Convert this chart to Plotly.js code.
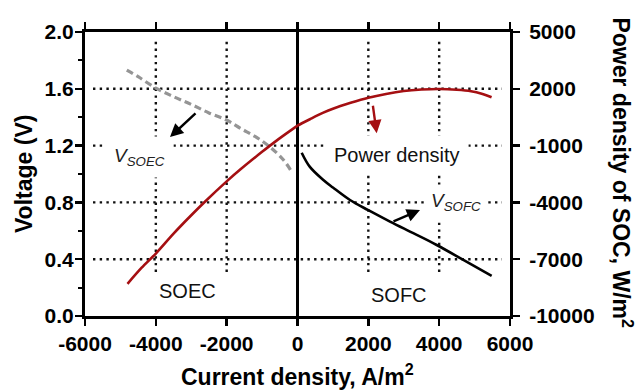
<!DOCTYPE html>
<html>
<head>
<meta charset="utf-8">
<script src="https://cdn.plot.ly/plotly-3.0.1.min.js"></script>
<style>html,body{margin:0;padding:0;background:#fff;}#chart{width:639px;height:391px;}</style>
</head>
<body>
<div id="chart"></div>
<script>
// ---- data ----
const powerI = [-4800, -4400, -4000, -3500, -3000, -2600, -2000, -1600, -1000, -600, -200, 0,
                400, 730, 1000, 1500, 2000, 2500, 3000, 3500, 4000, 4500, 4900, 5200, 5480];
const powerP = [-8300, -7450, -6700, -5650, -4680, -3940, -2890, -2240, -1330, -750, -210, 50,
                440, 740, 950, 1260, 1530, 1730, 1880, 1960, 1990, 1950, 1870, 1740, 1550];

const soecI = [-4820, -4500, -4000, -3500, -3000, -2500, -2000, -1600, -1200, -800, -400, -165];
const soecV = [1.732, 1.685, 1.605, 1.545, 1.49, 1.43, 1.38, 1.32, 1.265, 1.195, 1.10, 1.016];

const sofcI = [118, 350, 730, 1000, 1482, 2000, 2612, 3270, 3930, 4682, 5482];
const sofcV = [1.150, 1.05, 0.958, 0.905, 0.817, 0.745, 0.665, 0.583, 0.50, 0.395, 0.282];

const xTickVals = [-6000, -4000, -2000, 0, 2000, 4000, 6000];
const xTickText = ['-6000', '-4000', '-2000', '0', '2000', '4000', '6000'];
const yTickVals = [0, 0.4, 0.8, 1.2, 1.6, 2.0];
const yTickText = ['0.0', '0.4', '0.8', '1.2', '1.6', '2.0'];
const yMinorVals = [0.2, 0.6, 1.0, 1.4, 1.8];
const y2TickVals = [-10000, -7000, -4000, -1000, 2000, 5000];
const y2TickText = ['-10000', '-7000', '-4000', '-1000', '2000', '5000'];

const gridX = [-4000, -2000, 2000, 4000];
const gridY = [0.4, 0.8, 1.2, 1.6];

const FONT = 'Arial, "Liberation Sans", sans-serif';
const RED = '#A50F12';

const traces = [
  {x: powerI, y: powerP, yaxis: 'y2', mode: 'lines', line: {color: RED, width: 2.6, shape: 'spline', smoothing: 0.8}, hoverinfo: 'skip'},
  {x: soecI, y: soecV, mode: 'lines', line: {color: '#959595', width: 3.2, dash: '7px,4px', shape: 'spline'}, hoverinfo: 'skip'},
  {x: sofcI, y: sofcV, mode: 'lines', line: {color: '#000000', width: 2.6, shape: 'spline'}, hoverinfo: 'skip'}
];

const gridLine = {color: '#111111', width: 2.4, dash: '2.4px,4.3px'};
const shapes = [];
gridX.forEach(v => shapes.push({type: 'line', layer: 'below', xref: 'x', yref: 'y', x0: v, x1: v, y0: 0.31, y1: 1.944, line: gridLine}));
gridY.forEach(v => shapes.push({type: 'line', layer: 'below', xref: 'x', yref: 'y', x0: -5774, x1: 5774, y0: v, y1: v, line: gridLine}));

const tickFont = {family: FONT, size: 21, color: '#000', weight: 'bold'};
const titleFont = {family: FONT, size: 23, color: '#000', weight: 'bold'};
const labelFont = {family: FONT, size: 20, color: '#111'};

const annotations = [
  // axis titles
  {xref: 'paper', yref: 'paper', x: 0.501, y: -0.207, text: 'Current density, A/m<sup>2</sup>', showarrow: false, font: titleFont, xanchor: 'center', yanchor: 'middle'},
  {xref: 'paper', yref: 'paper', x: -0.1435, y: 0.5, text: 'Voltage (V)', textangle: -90, showarrow: false, font: titleFont, xanchor: 'center', yanchor: 'middle'},
  {xref: 'paper', yref: 'paper', x: 1.2635, y: 0.502, text: 'Power density of SOC, W/m<sup>2</sup>', textangle: 90, showarrow: false, font: titleFont, xanchor: 'center', yanchor: 'middle'},
  // labels
  {xref: 'x', yref: 'y', x: -3092, y: 0.176, text: 'SOEC', showarrow: false, font: labelFont},
  {xref: 'x', yref: 'y', x: 2866, y: 0.148, text: 'SOFC', showarrow: false, font: labelFont},
  {xref: 'x', yref: 'y', x: 2809, y: 1.134, text: 'Power density', showarrow: false, font: labelFont, bgcolor: '#ffffff', borderpad: 8},
  {xref: 'x', yref: 'y', x: -4475, y: 1.12, text: '<i>V<sub>SOEC</sub></i>', showarrow: false, font: {family: FONT, size: 19, color: '#222'}, bgcolor: '#ffffff', borderpad: 8},
  {xref: 'x', yref: 'y', x: 4475, y: 0.803, text: '<i>V<sub>SOFC</sub></i>', showarrow: false, font: {family: FONT, size: 19, color: '#222'}, bgcolor: '#ffffff', borderpad: 5},
  // arrows
  {xref: 'x', yref: 'y', x: -3600, y: 1.26, ax: 27, ay: -25, text: '', showarrow: true, arrowhead: 2, arrowsize: 1.1, arrowwidth: 2.4, arrowcolor: '#000'},
  {xref: 'x', yref: 'y', x: 2236, y: 1.287, ax: -4, ay: -29, text: '', showarrow: true, arrowhead: 2, arrowsize: 1.1, arrowwidth: 2.4, arrowcolor: RED},
  {xref: 'x', yref: 'y', x: 3459, y: 0.746, ax: -28, ay: 12, text: '', showarrow: true, arrowhead: 2, arrowsize: 1.1, arrowwidth: 2.4, arrowcolor: '#000'}
];

const layout = {
  width: 639, height: 391,
  margin: {l: 85, r: 129, t: 32, b: 75, pad: 0},
  paper_bgcolor: '#fff', plot_bgcolor: '#fff',
  showlegend: false,
  font: {family: FONT, color: '#000'},
  xaxis: {
    range: [-6000, 6000], tickmode: 'array', tickvals: xTickVals, ticktext: xTickText,
    ticks: 'outside', ticklen: 7, tickwidth: 2.5, tickcolor: '#000',
    showline: true, linewidth: 3, linecolor: '#000', mirror: 'ticks',
    showgrid: false, zeroline: true, zerolinecolor: '#000', zerolinewidth: 2.5,
    tickfont: tickFont, fixedrange: true
  },
  yaxis: {
    range: [0, 2.0], tickmode: 'array', tickvals: yTickVals, ticktext: yTickText,
    ticks: 'outside', ticklen: 7, tickwidth: 2.5, tickcolor: '#000',
    minor: {tickmode: 'array', tickvals: yMinorVals, ticks: 'outside', ticklen: 4, tickwidth: 2, tickcolor: '#000', showgrid: false},
    showline: true, linewidth: 3, linecolor: '#000', ticklabelstandoff: -3,
    showgrid: false, zeroline: false, tickfont: tickFont, fixedrange: true
  },
  yaxis2: {
    overlaying: 'y', side: 'right',
    range: [-10000, 5000], tickmode: 'array', tickvals: y2TickVals, ticktext: y2TickText,
    ticks: 'outside', ticklen: 7, tickwidth: 2.5, tickcolor: '#000',
    showline: true, linewidth: 3, linecolor: '#000', ticklabelstandoff: 5,
    showgrid: false, zeroline: false, tickfont: tickFont, fixedrange: true
  },
  shapes: shapes,
  annotations: annotations
};

Plotly.newPlot('chart', traces, layout, {staticPlot: true, displayModeBar: false});
</script>
</body>
</html>
